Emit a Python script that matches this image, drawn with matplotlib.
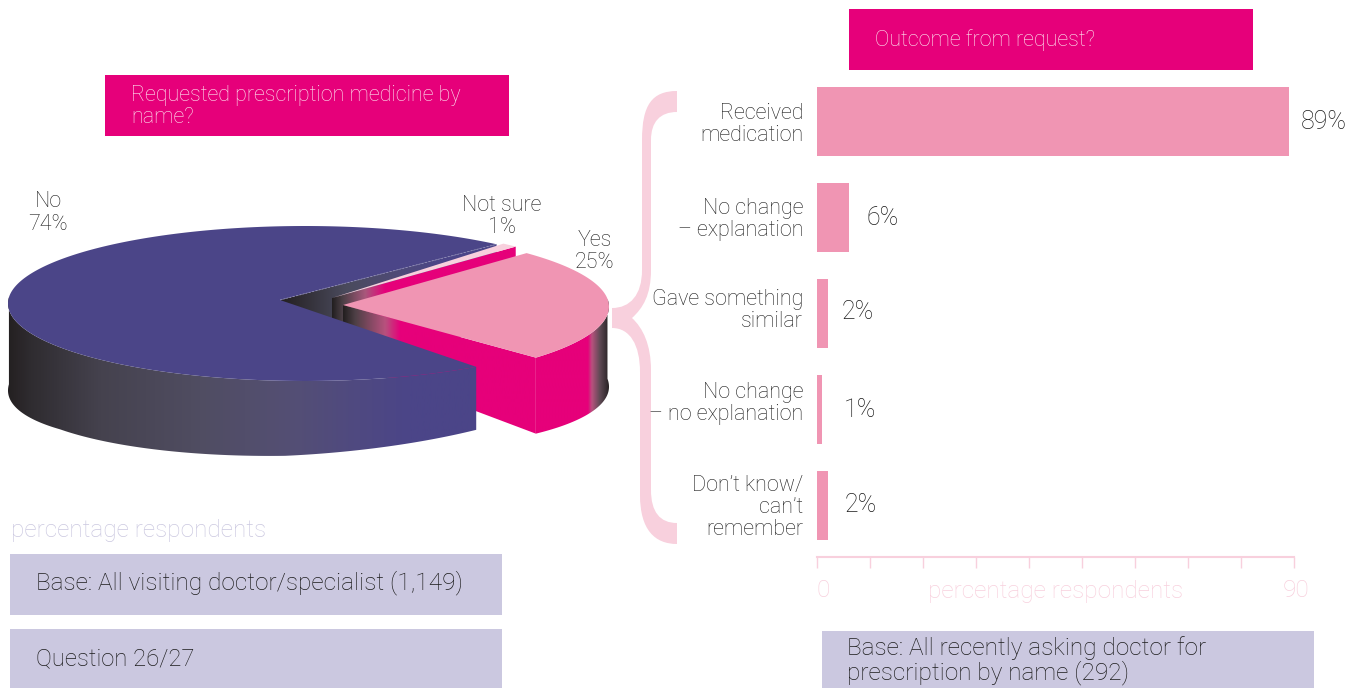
import numpy as np
import matplotlib
matplotlib.use("Agg")
import matplotlib.pyplot as plt
from matplotlib.colors import LinearSegmentedColormap
from matplotlib.patches import Polygon, Rectangle, PathPatch
from matplotlib.path import Path
from matplotlib.transforms import ScaledTranslation

plt.rcParams['font.family'] = ['Roboto', 'Liberation Sans', 'DejaVu Sans']
plt.rcParams['font.weight'] = 'light'
plt.rcParams['axes.labelweight'] = 'light'

# pie data
pie_names = ["Yes", "Not sure", "No"]
pie_values = [25, 1, 74]

# bar data
bar_names = ["Received\nmedication", "No change\n– explanation", "Gave something\nsimilar",
             "No change\n– no explanation", "Don’t know/\ncan’t\nremember"]
bar_values = [89, 6, 2, 1, 2]
bar_ticks = [0, 10, 20, 30, 40, 50, 60, 70, 80, 90]
bar_ticklabels = ["0", "", "", "", "", "", "", "", "", "90"]

PINK = "#e6007a"
ROSE = "#f095b3"
PALE = "#f8d0dd"
NAVY = "#4b4588"
LILAC = "#cbc8e0"
DARK = "#231f20"
INK = "#1c1c1c"
FS_BIG = 17.6
FS_SMALL = 15.5

W, H = 1362, 688
fig = plt.figure(figsize=(W / 100, H / 100), dpi=100)
ax = fig.add_axes([0, 0, 1, 1])
ax.set_xlim(0, W)
ax.set_ylim(H, 0)
ax.axis("off")

SQ = 3.6
RX, RY = 297, 77.5


def ray_hit(apex, centre, a):
    # where the ray from the slice tip meets the rim ellipse (screen coords)
    dx, dy = np.cos(a), -np.sin(a) / SQ
    px, py = (apex[0] - centre[0]) / RX, (apex[1] - centre[1]) / RY
    qx, qy = dx / RX, dy / RY
    A = qx**2 + qy**2
    B = 2 * (px * qx + py * qy)
    C = px**2 + py**2 - 1
    r = (-B + np.sqrt(B**2 - 4 * A * C)) / (2 * A)
    return apex[0] + r * dx, apex[1] + r * dy


def rim(apex, centre, a0, a1, n=200):
    pts = [ray_hit(apex, centre, a) for a in np.radians(np.linspace(a0, a1, n))]
    return np.array(pts)


def wall(top, depth):
    bottom = np.column_stack([top[:, 0], top[:, 1] + depth(top[:, 0])])
    return np.vstack([top, bottom[::-1]])


def shaded(verts, stops, z):
    # horizontal gradient clipped to a polygon
    x0, x1 = stops[0][0], stops[-1][0]
    cmap = LinearSegmentedColormap.from_list(
        "g", [((s[0] - x0) / (x1 - x0), s[1]) for s in stops])
    patch = Polygon(verts, closed=True, fc="none", ec="none", zorder=z)
    ax.add_patch(patch)
    im = ax.imshow(np.linspace(0, 1, 800).reshape(1, -1), cmap=cmap, aspect="auto",
                   extent=(x0, x1, H, 0), interpolation="bilinear", zorder=z)
    im.set_clip_path(patch)


# slice angles from the values, going anticlockwise from the lower right
yes_span, sure_span, no_span = [v / sum(pie_values) * 360 for v in pie_values]
yes_a0 = -44.5
yes_a1 = yes_a0 + yes_span
sure_a0 = yes_a1 - 0.3
sure_a1 = sure_a0 + sure_span
no_a0 = sure_a1 - 6
no_a1 = no_a0 + no_span

no_apex, no_c = (280, 300), (305, 303.5)
sure_apex, sure_c = (332, 298), (308, 302)
yes_apex, yes_c = (343, 305), (312, 306.7)

# far wall of the No slice, seen through the gap
far = np.array([no_apex, ray_hit(no_apex, no_c, np.radians(no_a0))])
shaded(wall(far, lambda x: np.full_like(x, 60.0)),
       [(280, DARK), (345, "#4a4a5c"), (400, "#4f4b78"), (440, NAVY), (500, NAVY)], 2)

# Not sure
sure_rim = rim(sure_apex, sure_c, sure_a0, sure_a1, 20)
near = np.vstack([sure_apex, sure_rim[:1]])
shaded(wall(near, lambda x: np.full_like(x, 75.0)),
       [(332, DARK), (342, "#4a3f45"), (365, "#a9587c"), (385, PINK), (520, PINK)], 3)
ax.add_patch(Polygon(np.vstack([sure_apex, sure_rim]), closed=True, fc=PALE, ec="none", zorder=3.5))

# Yes
yes_rim = rim(yes_apex, yes_c, yes_a0, yes_a1)
near = np.vstack([yes_apex, yes_rim[:1]])
yes_depth = lambda x: np.interp(x, [343, 535.5, 609], [56, 76, 80])
shaded(wall(near, yes_depth),
       [(343, DARK), (355, "#4e4046"), (385, "#b8527e"), (400, PINK), (540, PINK)], 4)
shaded(wall(yes_rim[:110], yes_depth),
       [(535, PINK), (588, PINK), (592, "#b8527e"), (600, "#5f4a55"), (610, DARK)], 4.5)
ax.add_patch(Polygon(np.vstack([yes_apex, yes_rim]), closed=True, fc=ROSE, ec="none", zorder=5))

# No
no_rim = rim(no_apex, no_c, no_a0, no_a1, 500)
front = rim(no_apex, no_c, no_a1, 178, 300)
no_depth = lambda x: np.interp(x, [8, 60, 285, 476], [87, 82, 75, 63])
shaded(wall(front, no_depth),
       [(5, DARK), (30, "#2f2c30"), (100, "#45424e"), (200, "#504d62"), (290, "#544f74"),
        (360, "#4f4981"), (410, NAVY), (480, NAVY)], 6)
ax.add_patch(Polygon(np.vstack([no_apex, no_rim]), closed=True, fc=NAVY, ec="none", zorder=7))
ax.plot(far[:, 0], far[:, 1], color="#8f8cb5", lw=0.6, ls=(0, (2, 2)), zorder=7.5)

# brace from the Yes slice to the bars
brace = [(Path.MOVETO, (677, 91)),
         (Path.CURVE4, (652, 91)), (Path.CURVE4, (642, 105)), (Path.CURVE4, (642, 140)),
         (Path.LINETO, (642, 270)),
         (Path.CURVE4, (642, 295)), (Path.CURVE4, (630, 308)), (Path.CURVE4, (612, 308)),
         (Path.LINETO, (612, 328)),
         (Path.CURVE4, (630, 328)), (Path.CURVE4, (640, 345)), (Path.CURVE4, (640, 372)),
         (Path.LINETO, (640, 495)),
         (Path.CURVE4, (640, 530)), (Path.CURVE4, (655, 544)), (Path.CURVE4, (677, 544)),
         (Path.LINETO, (677, 523)),
         (Path.CURVE4, (660, 523)), (Path.CURVE4, (651, 512)), (Path.CURVE4, (651, 490)),
         (Path.LINETO, (651, 370)),
         (Path.CURVE4, (651, 345)), (Path.CURVE4, (643, 328)), (Path.CURVE4, (632, 318)),
         (Path.CURVE4, (643, 308)), (Path.CURVE4, (651, 295)), (Path.CURVE4, (651, 270)),
         (Path.LINETO, (651, 140)),
         (Path.CURVE4, (651, 122)), (Path.CURVE4, (660, 112)), (Path.CURVE4, (677, 112)),
         (Path.CLOSEPOLY, (677, 91))]
codes, verts = zip(*brace)
ax.add_patch(PathPatch(Path(verts, codes), fc=PALE, ec="none", zorder=1))

# boxes
for x0, y0, x1, y1, c in [(105, 75, 509, 136, PINK), (849, 9, 1253, 70, PINK),
                          (10, 554, 502, 615, LILAC), (10, 629, 502, 688, LILAC),
                          (822, 631, 1314, 688, LILAC)]:
    ax.add_patch(Rectangle((x0, y0), x1 - x0, y1 - y0, fc=c, ec="none", zorder=1))


def label(x, y, s, color=INK, ha="left", size=FS_SMALL, ls=1.1):
    ax.text(x, y, s, color=color, ha=ha, va="center", fontsize=size, linespacing=ls, zorder=10)


label(131, 106.5, "Requested prescription medicine by\nname?", color="#fde6ef")
label(875, 40, "Outcome from request?", color="#fde6ef")
label(11, 530, "percentage respondents", color=LILAC, size=FS_BIG)
label(36, 583, "Base: All visiting doctor/specialist (1,149)", size=FS_BIG)
label(36, 659, "Question 26/27", size=17.2)
label(847, 660.5, "Base: All recently asking doctor for\nprescription by name (292)", size=FS_BIG, ls=1.03)

# pie labels
for name, v, x, y in zip(pie_names, pie_values, [595, 502, 48], [251.5, 216.5, 213]):
    label(x, y, f"{name}\n{v}%", ha="center")

# bars
bx = fig.add_axes([817 / W, (H - 557) / H, 477 / W, (557 - 73.5) / H])
bx.patch.set_alpha(0)
y_pos = np.arange(len(bar_values))
bx.barh(y_pos, bar_values, height=0.72, color=ROSE)
bx.set_xlim(0, 90)
bx.set_ylim(4.536, -0.5)
for s in ["top", "left", "right"]:
    bx.spines[s].set_visible(False)
bx.spines["bottom"].set_color(PALE)
bx.spines["bottom"].set_linewidth(1.5)
bx.set_yticks(y_pos)
bx.set_yticklabels(bar_names, fontsize=FS_SMALL, color=INK, linespacing=1.07)
bx.tick_params(axis="y", length=0, pad=10)
# the category labels do not sit quite on the bar centres
shifts = [0, 1.5, 6, 9.5, 1]
for t, up in zip(bx.get_yticklabels(), shifts):
    t.set_transform(t.get_transform() + ScaledTranslation(0, up / 100, fig.dpi_scale_trans))
bx.set_xticks(bar_ticks)
bx.set_xticklabels(bar_ticklabels, fontsize=FS_BIG, color=PALE)
bx.tick_params(axis="x", length=8, width=1.0, color=PALE, pad=8)
bx.get_xticklabels()[0].set_ha("left")
last = bx.get_xticklabels()[-1]
last.set_transform(last.get_transform() + ScaledTranslation(2.5 / 100, 0, fig.dpi_scale_trans))
bx.set_xlabel("percentage respondents", fontsize=FS_BIG, color=PALE, labelpad=-16)

pads = [12, 18, 14, 21, 17]
lifts = [-0.5, -0.5, 1.5, -0.5, 0.5]
for i, v in enumerate(bar_values):
    bx.annotate(f"{v}%", (v, i), xytext=(pads[i] * 0.72, lifts[i] * 0.72), textcoords="offset points",
                va="center", ha="left", fontsize=18, color=INK, clip_on=False)

fig.savefig("out.png", dpi=100)
